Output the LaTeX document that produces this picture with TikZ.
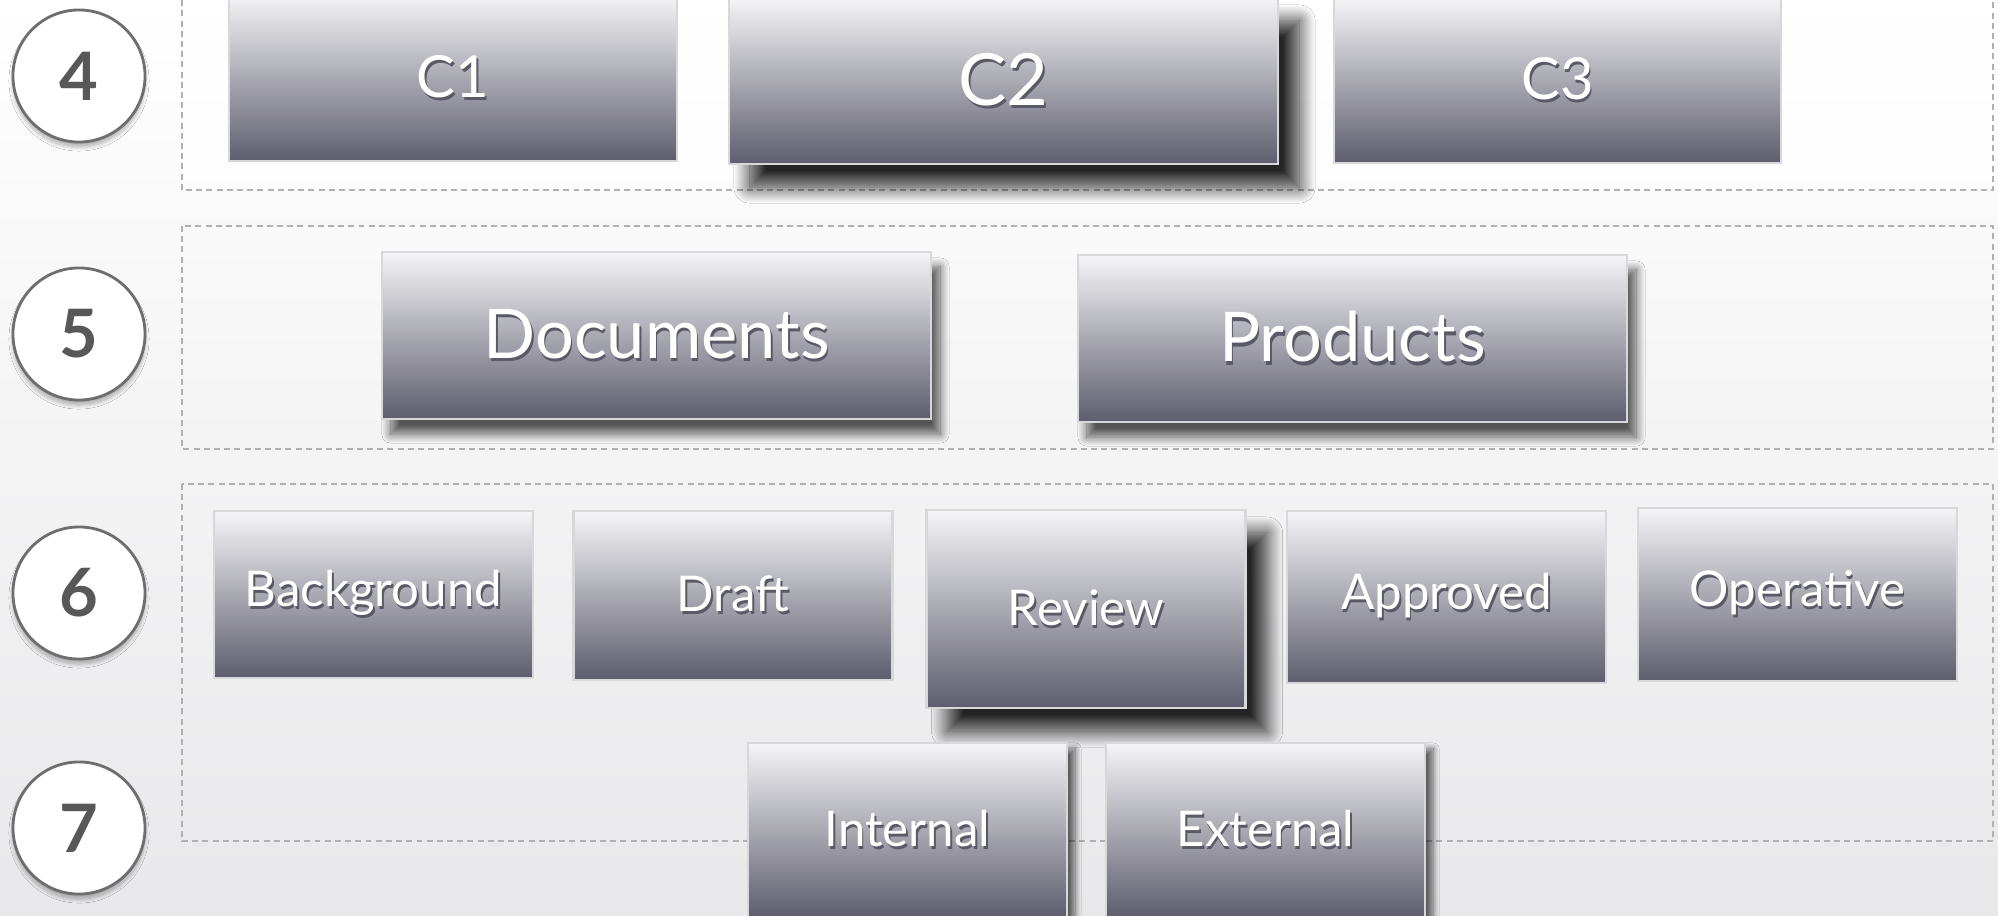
\documentclass[tikz,border=0pt]{standalone}
\usepackage{fontspec}
\setmainfont{Lato}
\usetikzlibrary{shadows.blur}

\definecolor{boxtop}{HTML}{F5F5F7}
\definecolor{boxmid}{HTML}{ABABB3}
\definecolor{boxbot}{HTML}{5E5D6D}
\definecolor{boxline}{HTML}{D8D8DA}
\definecolor{dashline}{HTML}{B0B0B0}
\definecolor{ringline}{HTML}{6E6E6E}
\definecolor{digitgray}{HTML}{585858}
\definecolor{txtshade}{HTML}{5A5966}
\definecolor{pagebot}{HTML}{E8E8EA}

% white label with a dark copy just below it
\newcommand{\shadowed}[1]{\makebox[0pt][l]{\hspace{0.5pt}\raisebox{-0.9pt}{\color{txtshade}#1}}#1}

\begin{document}
\begin{tikzpicture}[x=0.01cm, y=-0.01cm,
            every node/.style={
            inner sep=0pt, text centered, text=white}
        ]
        \tikzstyle {card} = [rectangle, draw=boxline, line width=0.7pt,
            top color=boxtop, middle color=boxmid, bottom color=boxbot]
        \tikzstyle {wide_card} = [card, minimum width=5.49cm, minimum height=1.67cm]
        \tikzstyle {narrow_card} = [card, minimum width=3.19cm, font=\fontsize{14}{14}\selectfont]
        \tikzstyle {soft_shadow} = [blur shadow={shadow xshift=0.09cm, shadow yshift=-0.15cm, shadow opacity=65, shadow blur radius=0.09cm, shadow blur steps=20}]
        \tikzstyle {side_shadow} = [blur shadow={shadow xshift=0.08cm, shadow yshift=-0.06cm, shadow opacity=60, shadow blur radius=0.06cm, shadow blur steps=16}]
        \tikzstyle {deep_shadow} = [blur shadow={shadow xshift=0.21cm, shadow yshift=-0.23cm, shadow opacity=85, shadow blur radius=0.16cm, shadow blur steps=24}]
        \tikzstyle {level} = [circle, draw=ringline, line width=0.8pt, fill=white,
            minimum size=1.32cm, text=digitgray, font=\fontsize{19}{19}\selectfont\bfseries,
            blur shadow={shadow xshift=0cm, shadow yshift=-0.05cm, shadow opacity=30, shadow blur radius=0.04cm, shadow blur steps=10}]
        \tikzstyle {frame} = [draw=dashline, line width=0.55pt, dash pattern=on 1.7pt off 1.2pt]

        \useasboundingbox (0,0) rectangle (1998,916);
        \fill [top color=white, bottom color=pagebot] (0,0) rectangle (1998,916);

        % dashed bands
        \fill [white, opacity=0.5] (182,-10) rectangle (1993,190);
        \draw [frame] (182,-10) rectangle (1993,190);
        \draw [frame] (182,226) rectangle (1993,449);
        \draw [frame] (182,484) rectangle (1993,841);

        % level numbers
        \node [level] (l4) at (79,76) {4};
        \node [level] (l5) at (79,334) {5};
        \node [level] (l6) at (79,593) {6};
        \node [level] (l7) at (79,828) {7};

        % level 4
        \node [card, minimum width=4.48cm, minimum height=1.66cm,
            font=\fontsize{16.5}{16.5}\selectfont] (c1) at (453,78) {\shadowed{C1}};
        \node [wide_card, deep_shadow, minimum height=1.66cm,
            font=\fontsize{20.5}{20.5}\selectfont] (c2) at (1003.5,81) {\shadowed{C2}};
        \node [card, minimum width=4.47cm, minimum height=1.66cm,
            font=\fontsize{16.5}{16.5}\selectfont] (c3) at (1557.5,80) {\shadowed{C3}};

        % level 5
        \node [wide_card, soft_shadow, font=\fontsize{19.5}{19.5}\selectfont]
            (docs) at (656.5,335.5) {\shadowed{Documents}};
        \node [wide_card, soft_shadow, font=\fontsize{19.5}{19.5}\selectfont]
            (prods) at (1352.5,338.5) {\shadowed{Products}};

        % level 6
        \node [narrow_card, minimum height=1.67cm] (backg) at (373.5,594.5) {\shadowed{Background}};
        \node [narrow_card, minimum height=1.69cm] (draft) at (733,595.5) {\shadowed{Draft}};
        \node [narrow_card, deep_shadow, minimum height=1.98cm] (review) at (1086,609) {\shadowed{Review}};
        \node [narrow_card, minimum height=1.72cm] (approved) at (1446.5,597) {\shadowed{Approved}};
        \node [narrow_card, minimum height=1.73cm] (operative) at (1797.5,594.5) {\shadowed{Operative}};

        % level 7
        \node [narrow_card, side_shadow, minimum height=1.74cm] (internal) at (907.5,830) {\shadowed{Internal}};
        \node [narrow_card, side_shadow, minimum height=1.74cm] (external) at (1265.5,830) {\shadowed{External}};

\end{tikzpicture}
\end{document}
